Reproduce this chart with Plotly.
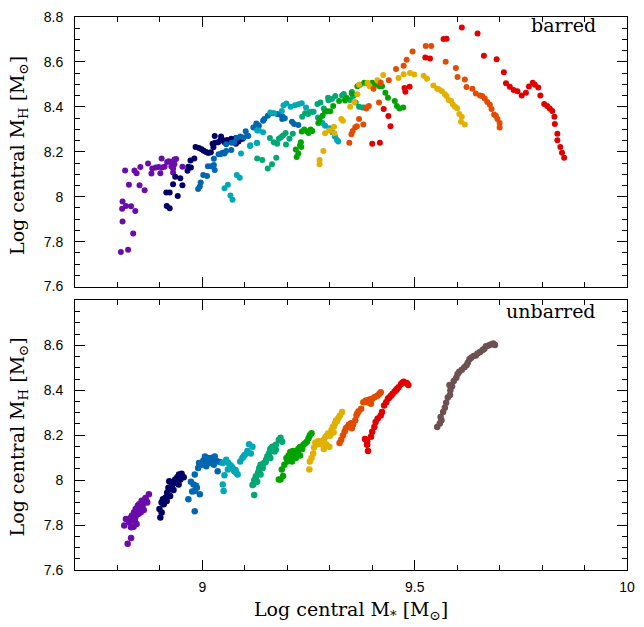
import plotly.graph_objects as go

# ---------------- data (log central M*, log central MH) ----------------
# barred panel
barred_purple = [(8.808,7.754),(8.825,7.764),(8.837,7.836),(8.812,7.890),(8.811,7.947),(8.812,7.979),(8.820,7.959),
    (8.832,7.958),(8.842,7.936),(8.818,8.117),(8.827,8.053),(8.840,8.117),(8.845,8.104),(8.852,8.051),(8.864,8.029),
    (8.854,8.132),(8.872,8.148),(8.882,8.126),(8.880,8.103),(8.890,8.130),(8.897,8.132),(8.901,8.104),(8.905,8.130),
    (8.911,8.133),(8.917,8.155),(8.921,8.158),(8.929,8.155),(8.934,8.166),(8.938,8.168),(8.931,8.126),(8.934,8.144),
    (8.927,8.135),(8.904,8.170),(8.953,8.133),(8.931,8.108)]
barred_navy = [(8.936,8.089),(8.948,8.082),(8.931,8.056),(8.953,8.051),(8.915,8.019),(8.923,8.019),(8.942,8.003),
    (8.916,7.959),(8.923,7.949),(8.965,8.116),(8.967,8.133),(8.972,8.161),(8.981,8.170),(8.973,8.130),(8.984,8.221),
    (8.992,8.217),(8.998,8.211),(9.003,8.205),(9.009,8.199),(9.014,8.195),(9.020,8.198),(9.024,8.236),(9.026,8.220),
    (9.030,8.240),(9.037,8.243),(9.042,8.250),(9.044,8.268),(9.047,8.254),(9.052,8.243),(9.058,8.252),(9.063,8.246),
    (9.068,8.258),(9.073,8.254),(9.079,8.261),(9.085,8.246),(9.091,8.258),(9.095,8.258),(9.029,8.270),(9.079,8.236),
    (9.087,8.255)]
barred_blue = [(8.990,8.034),(8.994,8.045),(8.996,8.063),(9.002,8.097),(9.011,8.092),(9.013,8.136),(9.021,8.136),
    (9.027,8.169),(9.029,8.119),(9.027,8.141),(9.038,8.189),(9.044,8.190),(9.047,8.196),(9.052,8.192),(9.056,8.204),
    (9.056,8.234),(9.068,8.208),(9.069,8.240),(9.075,8.243),(9.081,8.261),(9.089,8.268),(9.097,8.264),(9.102,8.292),
    (9.108,8.270),(9.120,8.308),(9.127,8.326),(9.106,8.273),(9.128,8.324),(9.133,8.316),(9.143,8.338),(9.146,8.346),
    (9.154,8.360),(9.166,8.372),(9.176,8.368),(9.184,8.365),(9.189,8.356),(9.188,8.346),(9.194,8.349),(9.211,8.334),
    (9.216,8.324),(9.226,8.319)]
barred_cyan = [(9.052,8.038),(9.060,8.053),(9.066,8.006),(9.071,7.987),(9.081,8.097),(9.088,8.084),(9.091,8.192),
    (9.112,8.226),(9.128,8.240),(9.129,8.295),(9.113,8.229),(9.129,8.239),(9.133,8.295),(9.143,8.287),(9.160,8.375),
    (9.169,8.372),(9.187,8.382),(9.191,8.407),(9.198,8.415),(9.208,8.401),(9.218,8.407),(9.226,8.412),(9.234,8.416),
    (9.244,8.397),(9.253,8.378),(9.262,8.378),(9.272,8.353),(9.283,8.328),(9.289,8.316),(9.299,8.305),(9.306,8.287),
    (9.312,8.268),(9.317,8.253),(9.320,8.246)]
barred_teal = [(9.129,8.170),(9.141,8.163),(9.154,8.126),(9.164,8.144),(9.174,8.174),(9.159,8.261),(9.168,8.243),
    (9.176,8.236),(9.180,8.258),(9.185,8.265),(9.190,8.273),(9.196,8.284),(9.197,8.232),(9.205,8.258),(9.213,8.280),
    (9.235,8.356),(9.242,8.372),(9.249,8.368),(9.259,8.378),(9.271,8.413),(9.278,8.419),(9.286,8.393),(9.296,8.441),
    (9.297,8.429),(9.305,8.435),(9.313,8.448),(9.329,8.451),(9.333,8.457),(9.337,8.434),(9.348,8.431),(9.352,8.466),
    (9.355,8.448),(9.361,8.419),(9.369,8.401),(9.377,8.397),(9.382,8.397)]
barred_green = [(9.220,8.210),(9.222,8.177),(9.226,8.192),(9.230,8.229),(9.232,8.243),(9.233,8.221),(9.234,8.290),
    (9.240,8.299),(9.246,8.292),(9.250,8.284),(9.255,8.299),(9.259,8.293),(9.273,8.328),(9.276,8.346),(9.283,8.360),
    (9.289,8.378),(9.294,8.381),(9.301,8.381),(9.308,8.404),(9.322,8.426),(9.336,8.428),(9.340,8.440),(9.352,8.460),
    (9.365,8.492),(9.371,8.498),(9.381,8.507),(9.390,8.504),(9.400,8.507),(9.406,8.498),(9.412,8.504),(9.417,8.492),
    (9.423,8.492),(9.431,8.463),(9.437,8.441),(9.453,8.426),(9.458,8.404),(9.464,8.393),(9.473,8.397)]
barred_gold = [(9.276,8.144),(9.276,8.164),(9.285,8.204),(9.289,8.283),(9.299,8.295),(9.311,8.283),(9.310,8.312),
    (9.327,8.346),(9.331,8.338),(9.348,8.401),(9.358,8.422),(9.365,8.456),(9.369,8.498),(9.389,8.507),(9.394,8.492),
    (9.412,8.519),(9.416,8.513),(9.426,8.542),(9.462,8.529),(9.474,8.545),(9.489,8.551),(9.499,8.544),(9.521,8.539),
    (9.529,8.525),(9.544,8.495),(9.553,8.481),(9.557,8.478),(9.564,8.469),(9.571,8.456),(9.575,8.448),(9.580,8.431),
    (9.586,8.426),(9.590,8.410),(9.595,8.401),(9.600,8.394),(9.605,8.368),(9.611,8.356),(9.609,8.334),(9.618,8.322)]
barred_orange = [(9.346,8.240),(9.351,8.278),(9.354,8.293),(9.360,8.309),(9.364,8.314),(9.369,8.346),(9.379,8.322),
    (9.386,8.393),(9.392,8.404),(9.403,8.481),(9.416,8.419),(9.420,8.507),(9.439,8.519),(9.456,8.568),(9.474,8.583),
    (9.481,8.610),(9.495,8.646),(9.526,8.671),(9.539,8.671),(9.573,8.601),(9.597,8.573),(9.601,8.533),(9.618,8.522),
    (9.622,8.488),(9.636,8.481),(9.644,8.460),(9.654,8.451),(9.659,8.448),(9.665,8.437),(9.671,8.422),(9.677,8.409),
    (9.681,8.390),(9.687,8.366),(9.691,8.360),(9.695,8.346),(9.700,8.328),(9.700,8.308)]
barred_red = [(9.400,8.236),(9.418,8.240),(9.443,8.314),(9.438,8.359),(9.427,8.390),(9.478,8.467),(9.476,8.484),
    (9.488,8.489),(9.525,8.620),(9.536,8.615),(9.568,8.702),(9.575,8.703),(9.611,8.753),(9.648,8.727),(9.663,8.627),
    (9.693,8.612),(9.710,8.554),(9.715,8.505),(9.724,8.489),(9.733,8.475),(9.742,8.469),(9.752,8.451),(9.762,8.463),
    (9.769,8.491),(9.778,8.507),(9.783,8.498),(9.791,8.486),(9.796,8.451),(9.805,8.413),(9.812,8.404),(9.818,8.393),
    (9.824,8.382),(9.829,8.356),(9.830,8.324),(9.836,8.280),(9.836,8.251),(9.843,8.221),(9.847,8.196),(9.852,8.173)]

# unbarred panel
unbarred_purple = [(8.816,7.798),(8.824,7.717),(8.832,7.742),(8.820,7.827),(8.828,7.812),(8.832,7.790),(8.835,7.820),
    (8.834,7.842),(8.839,7.857),(8.842,7.835),(8.843,7.871),(8.848,7.886),(8.851,7.893),(8.855,7.879),(8.857,7.908),
    (8.862,7.901),(8.866,7.920),(8.874,7.937),(8.870,7.901),(8.862,7.867),(8.849,7.849),(8.838,7.793),(8.845,7.805),
    (8.859,7.886),(8.868,7.908),(8.835,7.842),(8.855,7.857),(8.846,7.868),(8.852,7.872),(8.860,7.895),(8.841,7.822),
    (8.864,7.912),(8.830,7.830),(8.857,7.869)]
unbarred_navy = [(8.901,7.834),(8.899,7.871),(8.904,7.900),(8.907,7.915),(8.913,7.922),(8.917,7.944),(8.920,7.966),
    (8.922,7.995),(8.928,7.973),(8.933,7.987),(8.936,8.003),(8.941,8.013),(8.945,8.025),(8.951,8.028),(8.948,8.003),
    (8.944,7.981),(8.924,7.929),(8.909,7.893),(8.916,7.907),(8.932,7.956),(8.904,7.856),(8.956,8.013),(8.926,7.960),
    (8.939,7.995),(8.912,7.905),(8.947,8.015)]
unbarred_blue = [(8.967,7.915),(8.982,7.861),(8.973,7.993),(8.979,7.981),(8.982,8.025),(8.982,7.952),(8.987,7.966),
    (8.994,7.937),(8.990,8.054),(8.998,8.069),(9.002,8.086),(9.006,8.105),(9.013,8.098),(9.021,8.098),(9.029,8.105),
    (9.033,8.086),(9.036,8.040),(9.027,8.069),(9.018,8.076),(9.009,8.062),(8.992,8.076),(9.041,8.081),(8.976,7.949),
    (9.004,8.078),(9.016,8.088),(9.024,8.090),(8.985,7.975)]
unbarred_cyan = [(9.048,8.076),(9.056,8.091),(9.061,8.076),(9.066,8.066),(9.071,8.054),(9.075,8.040),(9.080,8.032),
    (9.083,8.025),(9.089,8.083),(9.094,8.098),(9.100,8.113),(9.106,8.130),(9.110,8.160),(9.118,8.149),(9.114,8.119),
    (9.048,7.981),(9.050,7.952),(9.052,8.022),(9.060,8.047),(9.069,8.060),(9.078,8.045),(9.097,8.105)]
unbarred_teal = [(9.122,7.934),(9.118,7.978),(9.122,8.000),(9.126,8.017),(9.131,8.032),(9.134,8.054),(9.137,8.069),
    (9.142,8.054),(9.145,8.076),(9.150,8.091),(9.153,8.105),(9.157,8.120),(9.160,8.139),(9.165,8.149),(9.170,8.127),
    (9.173,8.135),(9.160,8.098),(9.120,7.981),(9.126,8.010),(9.133,8.040),(9.141,8.054),(9.149,8.081),(9.154,8.098),
    (9.160,8.127),(9.165,8.148),(9.173,8.157),(9.180,8.179),(9.184,8.189),(9.188,8.171),(9.137,8.025),(9.129,7.993)]
unbarred_green = [(9.184,8.003),(9.190,8.018),(9.187,8.047),(9.193,8.069),(9.198,8.098),(9.203,8.110),(9.207,8.125),
    (9.213,8.130),(9.218,8.119),(9.222,8.130),(9.226,8.139),(9.230,8.148),(9.235,8.139),(9.238,8.157),(9.242,8.164),
    (9.246,8.171),(9.250,8.186),(9.253,8.200),(9.257,8.209),(9.211,8.083),(9.200,8.083),(9.220,8.098),(9.230,8.110),
    (9.180,8.003),(9.216,8.112),(9.224,8.122),(9.209,8.102)]
unbarred_gold = [(9.252,8.047),(9.253,8.083),(9.257,8.098),(9.261,8.119),(9.263,8.145),(9.266,8.168),(9.273,8.174),
    (9.278,8.162),(9.281,8.171),(9.286,8.180),(9.290,8.193),(9.296,8.208),(9.301,8.198),(9.304,8.222),(9.307,8.237),
    (9.312,8.252),(9.315,8.266),(9.320,8.276),(9.324,8.288),(9.329,8.303),(9.299,8.149),(9.292,8.159),(9.309,8.212),
    (9.286,8.139),(9.270,8.160),(9.294,8.200),(9.310,8.240),(9.317,8.262)]
unbarred_orange = [(9.323,8.165),(9.327,8.180),(9.331,8.199),(9.335,8.216),(9.338,8.231),(9.345,8.246),(9.350,8.253),
    (9.355,8.248),(9.360,8.267),(9.363,8.289),(9.368,8.307),(9.374,8.318),(9.379,8.347),(9.385,8.355),(9.389,8.347),
    (9.394,8.359),(9.400,8.362),(9.406,8.370),(9.412,8.376),(9.417,8.384),(9.420,8.391),(9.397,8.340),(9.352,8.231),
    (9.342,8.238),(9.365,8.298),(9.391,8.357)]
unbarred_red = [(9.383,8.183),(9.388,8.157),(9.390,8.130),(9.397,8.193),(9.400,8.215),(9.405,8.237),(9.408,8.259),
    (9.413,8.274),(9.420,8.288),(9.423,8.303),(9.428,8.332),(9.433,8.347),(9.437,8.362),(9.444,8.376),(9.448,8.385),
    (9.453,8.394),(9.458,8.406),(9.462,8.413),(9.468,8.428),(9.474,8.438),(9.481,8.432),(9.485,8.423),(9.388,8.171),
    (9.440,8.368),(9.456,8.400),(9.471,8.433)]
unbarred_brown = [(9.553,8.237),(9.559,8.252),(9.563,8.267),(9.561,8.281),(9.567,8.303),(9.571,8.322),(9.574,8.344),
    (9.578,8.368),(9.583,8.379),(9.584,8.400),(9.582,8.423),(9.588,8.418),(9.592,8.441),(9.598,8.456),(9.601,8.472),
    (9.605,8.482),(9.611,8.491),(9.617,8.503),(9.622,8.511),(9.625,8.523),(9.629,8.538),(9.633,8.545),(9.639,8.552),
    (9.644,8.555),(9.648,8.564),(9.654,8.570),(9.660,8.579),(9.664,8.585),(9.668,8.596),(9.674,8.599),(9.679,8.604),
    (9.685,8.608),(9.689,8.601)]

x_tick_vals = [9, 9.5, 10]
x_tick_text = ["9", "9.5", "10"]
y_tick_vals_top = [7.6, 7.8, 8.0, 8.2, 8.4, 8.6, 8.8]
y_tick_text_top = ["7.6", "7.8", "8", "8.2", "8.4", "8.6", "8.8"]
y_tick_vals_bot = [7.6, 7.8, 8.0, 8.2, 8.4, 8.6]
y_tick_text_bot = ["7.6", "7.8", "8", "8.2", "8.4", "8.6"]

COL = {
    "purple": "#6a0caa", "navy": "#000066", "blue": "#0066b0", "cyan": "#00a8b6",
    "teal": "#00a874", "green": "#00a400", "gold": "#e2b000", "orange": "#e24c00",
    "red": "#e00000", "brown": "#6e5050",
}

top_groups = [("purple", barred_purple), ("navy", barred_navy), ("blue", barred_blue), ("cyan", barred_cyan),
              ("teal", barred_teal), ("green", barred_green), ("gold", barred_gold), ("orange", barred_orange),
              ("red", barred_red)]
bot_groups = [("purple", unbarred_purple), ("navy", unbarred_navy), ("blue", unbarred_blue), ("cyan", unbarred_cyan),
              ("teal", unbarred_teal), ("green", unbarred_green), ("gold", unbarred_gold), ("orange", unbarred_orange),
              ("red", unbarred_red), ("brown", unbarred_brown)]

fig = go.Figure()
for name, pts in top_groups:
    fig.add_trace(go.Scatter(x=[p[0] for p in pts], y=[p[1] for p in pts], mode="markers",
                             marker=dict(color=COL[name], size=6, line=dict(width=0)),
                             xaxis="x", yaxis="y", showlegend=False))
for name, pts in bot_groups:
    fig.add_trace(go.Scatter(x=[p[0] for p in pts], y=[p[1] for p in pts], mode="markers",
                             marker=dict(color=COL[name], size=6.5, line=dict(width=0)),
                             xaxis="x2", yaxis="y2", showlegend=False))

tickfont = dict(family="Liberation Sans, Arial, sans-serif", size=14, color="black")
common = dict(showline=True, linecolor="black", linewidth=1, mirror="allticks", ticks="inside",
              ticklen=10, tickcolor="black", tickwidth=1, showgrid=False, zeroline=False, tickfont=tickfont)

fig.update_layout(
    width=644, height=627, autosize=False,
    margin=dict(l=75, r=9, t=10, b=57),
    paper_bgcolor="white", plot_bgcolor="white",
    xaxis=dict(domain=[0, 1], range=[8.7, 10], anchor="y", tickvals=x_tick_vals, showticklabels=False,
               minor=dict(dtick=0.1, tick0=8.7, ticklen=5, ticks="inside", tickcolor="black"), **common),
    yaxis=dict(domain=[0.5125, 1], range=[7.6, 8.8], anchor="x", tickvals=y_tick_vals_top, ticktext=y_tick_text_top,
               ticklabelstandoff=8,
               minor=dict(dtick=0.05, tick0=7.6, ticklen=5, ticks="inside", tickcolor="black"), **common),
    xaxis2=dict(domain=[0, 1], range=[8.7, 10], anchor="y2", tickvals=x_tick_vals, ticktext=x_tick_text,
                ticklabelstandoff=4,
                minor=dict(dtick=0.1, tick0=8.7, ticklen=5, ticks="inside", tickcolor="black"), **common),
    yaxis2=dict(domain=[0, 0.4875], range=[7.6, 8.8], anchor="x2", tickvals=y_tick_vals_bot, ticktext=y_tick_text_bot,
                ticklabelstandoff=8,
                minor=dict(dtick=0.05, tick0=7.6, ticklen=5, ticks="inside", tickcolor="black"), **common),
)

serif = dict(family="DejaVu Serif, serif", size=19, color="black")
fig.add_annotation(text="barred", xref="x domain", yref="y domain", x=0.948, y=0.972,
                   xanchor="right", yanchor="middle", showarrow=False, font=serif)
fig.add_annotation(text="unbarred", xref="x2 domain", yref="y2 domain", x=0.948, y=0.96,
                   xanchor="right", yanchor="middle", showarrow=False, font=serif)
fig.add_annotation(text="Log central M<sub>*</sub> [M<sub>⊙</sub>]", xref="paper", yref="paper",
                   x=0.5, y=-0.074, xanchor="center", yanchor="middle", showarrow=False, font=serif)
fig.add_annotation(text="Log central M<sub>H</sub> [M<sub>⊙</sub>]", xref="paper", yref="paper",
                   x=-0.102, y=0.75, xanchor="center", yanchor="middle", textangle=-90, showarrow=False, font=serif)
fig.add_annotation(text="Log central M<sub>H</sub> [M<sub>⊙</sub>]", xref="paper", yref="paper",
                   x=-0.102, y=0.241, xanchor="center", yanchor="middle", textangle=-90, showarrow=False, font=serif)

fig.write_html("out.html")
